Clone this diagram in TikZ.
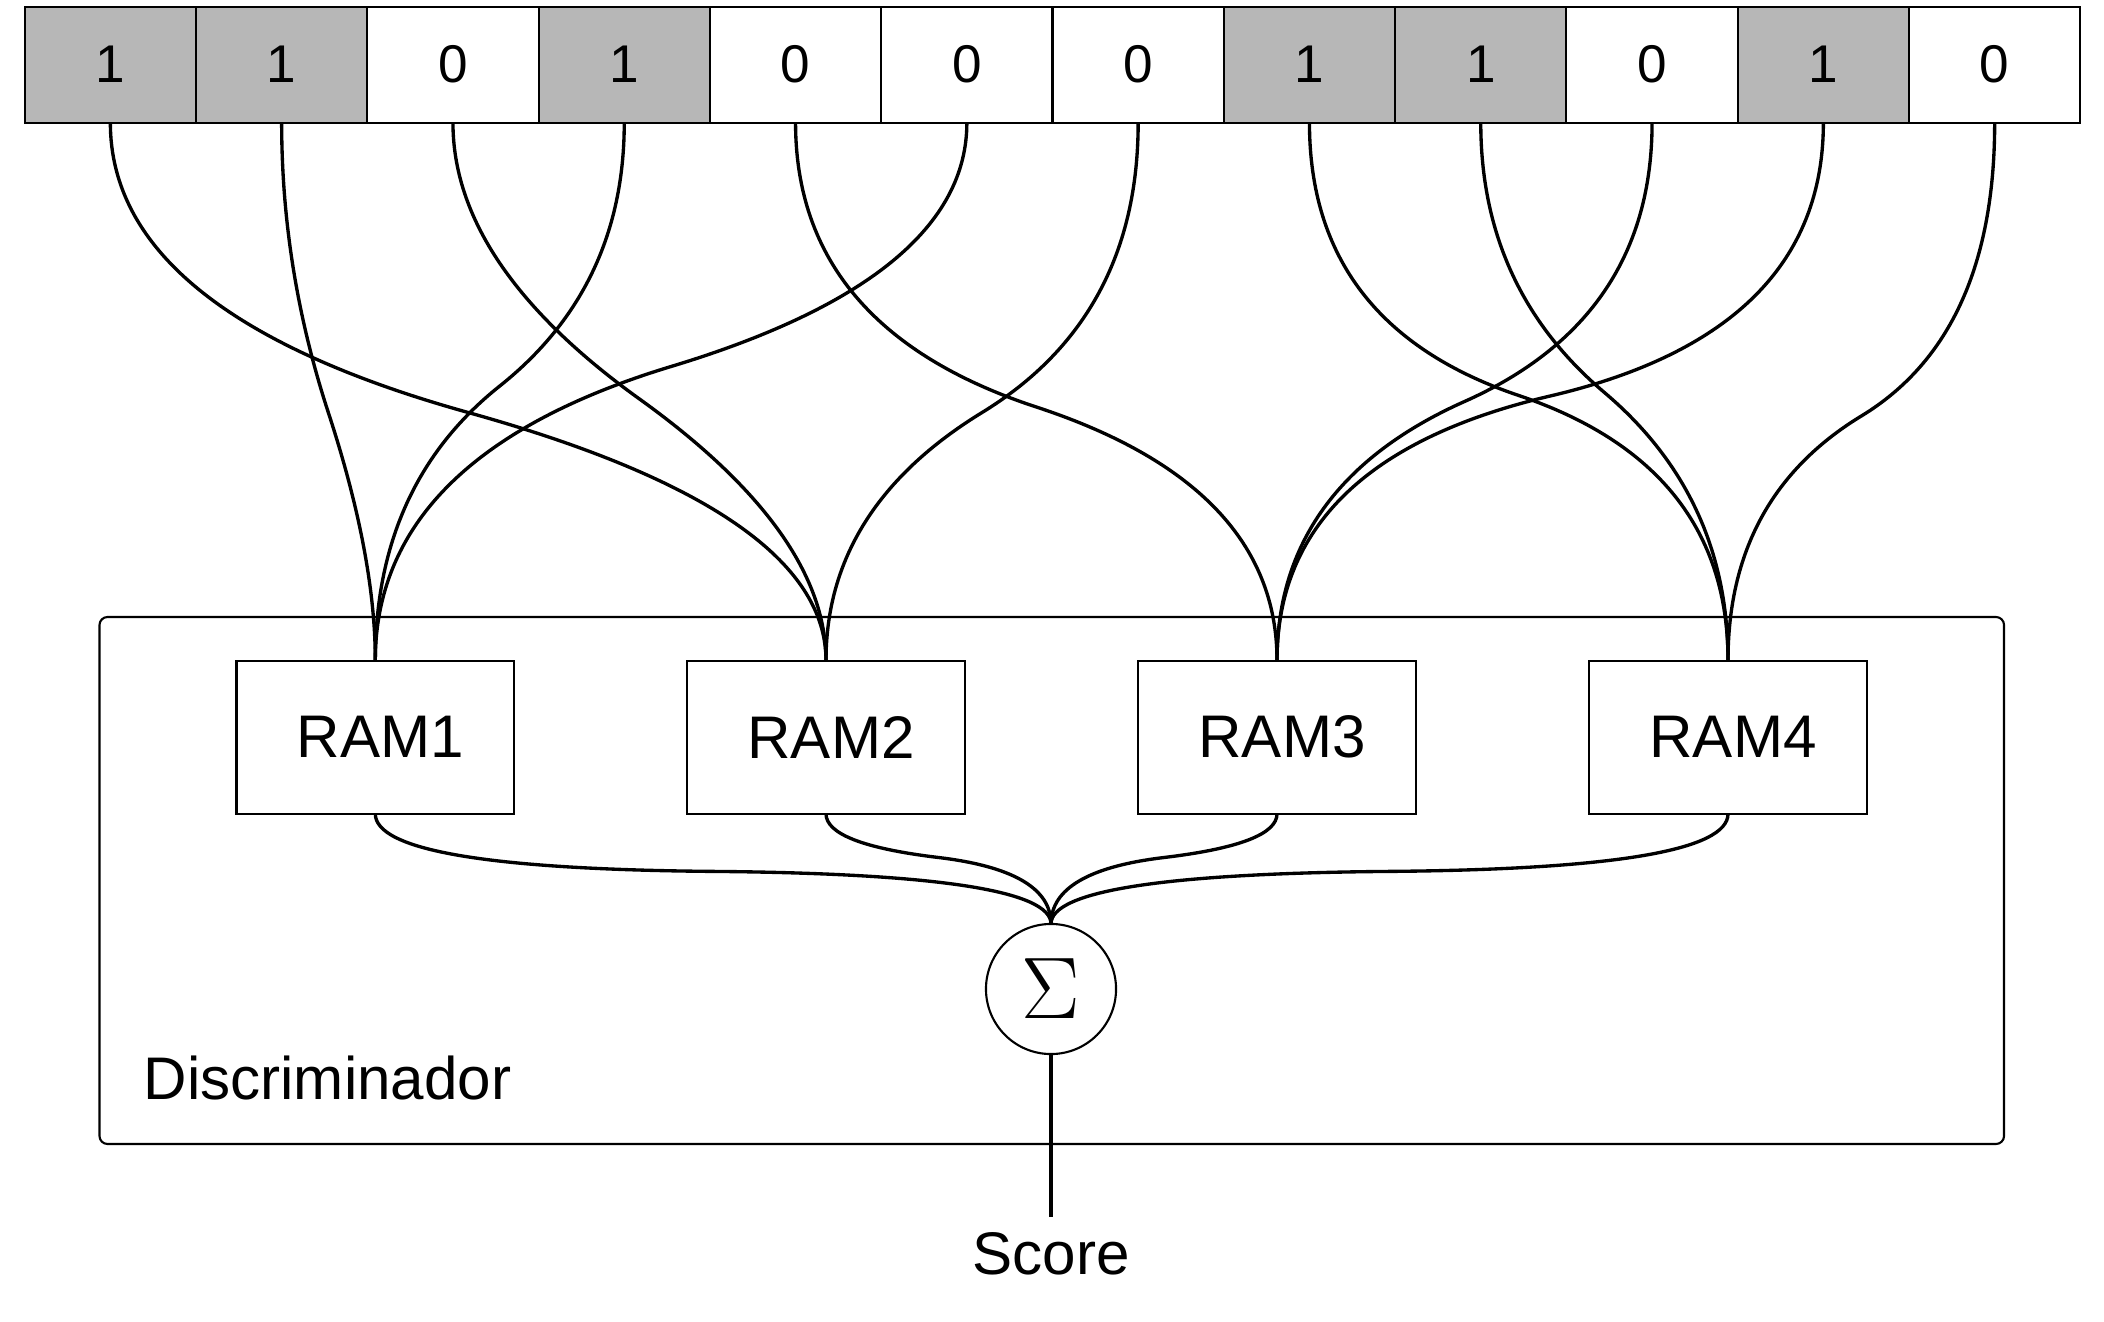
\documentclass[tikz,border=0pt]{standalone}
\usepackage{fontspec}
\setmainfont{Liberation Sans}
\newfontfamily\sigmafont{Liberation Serif}
\usetikzlibrary{calc}
\definecolor{cellgray}{RGB}{183,183,183}
\newcommand\wire[4]{%
  \path (#1) coordinate (wa) (#2) coordinate (wd);
  \path (wa |- 0,#3) coordinate (wb) (wd |- 0,#4) coordinate (wc);
  \path ($(wb)!0.5!(wc)$) coordinate (wm);
  \draw[wireline] (wa) .. controls ($(wa)!2/3!(wb)$) and ($(wm)!2/3!(wb)$) .. (wm)
     .. controls ($(wm)!2/3!(wc)$) and ($(wd)!2/3!(wc)$) .. (wd);
}
\begin{document}
\begin{tikzpicture}[x=0.01cm,y=-0.01cm,
  cellbox/.style={draw, line width=0.6pt, minimum width=1.713cm, minimum height=1.16cm,
     inner sep=0pt, outer sep=0pt, font=\fontsize{15.1pt}{18pt}\selectfont},
  rambox/.style={draw, line width=0.6pt, fill=white, minimum width=2.775cm, minimum height=1.53cm,
     inner sep=0pt, outer sep=0pt, font=\fontsize{17.1pt}{20pt}\selectfont},
  sumnode/.style={draw, circle, line width=0.6pt, minimum size=1.3cm, inner sep=0pt, outer sep=0pt,
     font=\sigmafont\fontsize{28pt}{30pt}\selectfont},
  labeltext/.style={inner sep=0pt, font=\fontsize{17.1pt}{20pt}\selectfont},
  wireline/.style={line width=0.95pt},
  framebox/.style={draw, line width=0.6pt, rounded corners=0.08cm}
]
\useasboundingbox (0,0) rectangle (2104,1322);
% discriminator frame
\draw[framebox] (99.5,617) rectangle (2004,1144);
% input bits
\foreach \v [count=\i] in {1,1,0,1,0,0,0,1,1,0,1,0} {
  \ifnum\v=1 \def\cf{cellgray}\else\def\cf{white}\fi
  \node[cellbox, fill=\cf] (c\i) at ({24.7+171.3*(\i-0.5)},64.7) {\v};
}
% RAM nodes
\node[rambox] (r1) at (375.3,737.2) {\kern0.1cm RAM1};
\node[rambox] (r2) at (826,737.2) {\kern0.1cm RAM2};
\node[rambox] (r3) at (1277,737.2) {\kern0.1cm RAM3};
\node[rambox] (r4) at (1728,737.2) {\kern0.1cm RAM4};
% summation node
\node[sumnode] (s) at (1051,989) {$\Sigma$};
\node[labeltext, anchor=base west] (disc) at (143,1099.5) {Discriminador};
\node[labeltext, anchor=base] (score) at (1051,1274.5) {Score};
\coordinate (sc) at (1051,1217);
% wires bits -> RAMs
\wire{c1.south}{r2.north}{313}{512}
\wire{c2.south}{r1.north}{270}{556}
\wire{c3.south}{r2.north}{265}{533}
\wire{c4.south}{r1.north}{287}{485}
\wire{c5.south}{r3.north}{328}{486}
\wire{c6.south}{r1.north}{277}{456}
\wire{c7.south}{r2.north}{317}{508}
\wire{c8.south}{r4.north}{325}{466}
\wire{c9.south}{r4.north}{288}{497}
\wire{c10.south}{r3.north}{318}{485}
\wire{c11.south}{r3.north}{332}{460}
\wire{c12.south}{r4.north}{335}{497}
% RAMs -> sum
\wire{r1.south}{s.north}{868.5}{874.3}
\wire{r2.south}{s.north}{844}{871}
\wire{r3.south}{s.north}{844}{871}
\wire{r4.south}{s.north}{868.5}{874.3}
% output
\draw[wireline] (s.south) -- (sc);
\end{tikzpicture}
\end{document}
